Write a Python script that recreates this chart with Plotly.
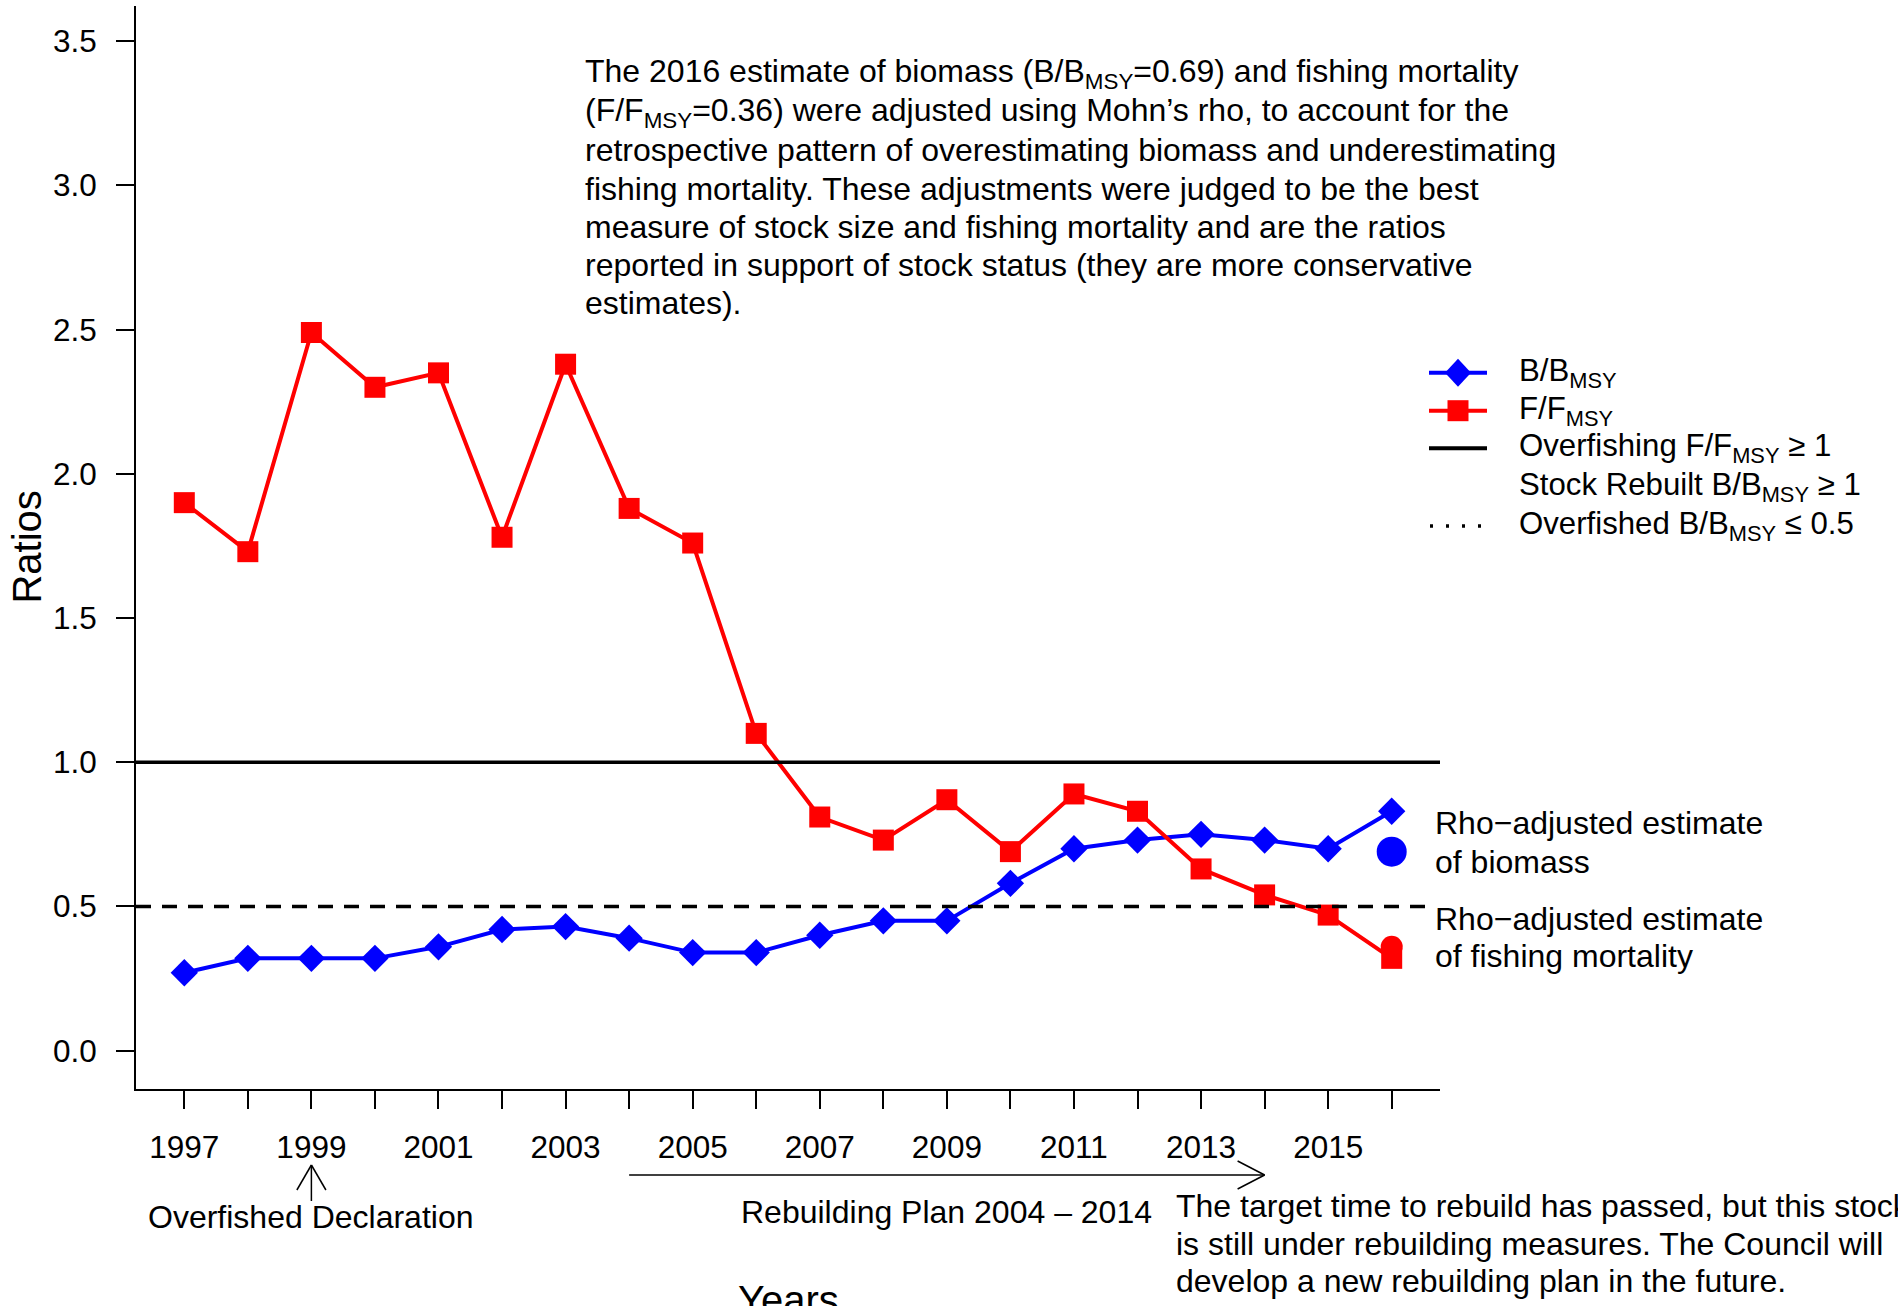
import plotly.graph_objects as go

# ---- data ----
years = list(range(1997, 2017))
b_bmsy = [0.27, 0.32, 0.32, 0.32, 0.36, 0.42, 0.43, 0.39, 0.34, 0.34,
          0.40, 0.45, 0.45, 0.58, 0.70, 0.73, 0.75, 0.73, 0.70, 0.83]
f_fmsy = [1.90, 1.73, 2.49, 2.30, 2.35, 1.78, 2.38, 1.88, 1.76, 1.10,
          0.81, 0.73, 0.87, 0.69, 0.89, 0.83, 0.63, 0.54, 0.47, 0.32]
rho_year = 2016
rho_b = 0.69
rho_f = 0.36
overfishing_ref = 1.0
overfished_ref = 0.5
declaration_year = 1999
plan_start, plan_end = 2004, 2014
y_ticks = [0.0, 0.5, 1.0, 1.5, 2.0, 2.5, 3.0, 3.5]
labelled_years = [y for y in years if y % 2 == 1]
other_years = [y for y in years if y % 2 == 0]

# ---- page geometry (pixels) ----
W, H = 1898, 1306
L, T, PW, PH = 136, 6, 1304, 1083
XR = [1996.24, 2016.76]
YR = [-0.133, 3.622]
FONT = "Liberation Sans, Arial, sans-serif"
BLUE, RED = "#0000FF", "#FF0000"


def px(x):
    return (x - L) / PW


def py(y):
    return 1 - (y - T) / PH


def dx(pixels):
    return pixels * (XR[1] - XR[0]) / PW


fig = go.Figure()
fig.add_trace(go.Scatter(x=years, y=b_bmsy, mode="lines+markers",
                         line=dict(color=BLUE, width=4),
                         marker=dict(symbol="diamond", size=21, color=BLUE)))
fig.add_trace(go.Scatter(x=years, y=f_fmsy, mode="lines+markers",
                         line=dict(color=RED, width=4),
                         marker=dict(symbol="square", size=21, color=RED)))
fig.add_trace(go.Scatter(x=[rho_year], y=[rho_b], mode="markers",
                         marker=dict(symbol="circle", size=30, color=BLUE)))
fig.add_trace(go.Scatter(x=[rho_year], y=[rho_f], mode="markers",
                         marker=dict(symbol="circle", size=22, color=RED)))

shapes = [
    dict(type="line", xref="x domain", yref="y", x0=0, x1=1,
         y0=overfishing_ref, y1=overfishing_ref, line=dict(color="black", width=3.5)),
    dict(type="line", xref="x domain", yref="y", x0=0, x1=0.993,
         y0=overfished_ref, y1=overfished_ref,
         line=dict(color="black", width=3.5, dash="15px,11px")),
]

# arrows under the axis
ay_top, ay_bot = py(1165), py(1201)
head_y = py(1190)
shapes += [
    dict(type="line", xref="x", yref="paper", x0=declaration_year, x1=declaration_year,
         y0=ay_bot, y1=ay_top, line=dict(color="black", width=1.5)),
    dict(type="line", xref="x", yref="paper", x0=declaration_year - dx(14.5), x1=declaration_year,
         y0=head_y, y1=ay_top, line=dict(color="black", width=1.5)),
    dict(type="line", xref="x", yref="paper", x0=declaration_year + dx(14.5), x1=declaration_year,
         y0=head_y, y1=ay_top, line=dict(color="black", width=1.5)),
]
arr_y = py(1175)
shapes += [
    dict(type="line", xref="x", yref="paper", x0=plan_start, x1=plan_end,
         y0=arr_y, y1=arr_y, line=dict(color="black", width=1.5)),
    dict(type="line", xref="x", yref="paper", x0=plan_end - dx(27), x1=plan_end,
         y0=py(1161), y1=arr_y, line=dict(color="black", width=1.5)),
    dict(type="line", xref="x", yref="paper", x0=plan_end - dx(27), x1=plan_end,
         y0=py(1189), y1=arr_y, line=dict(color="black", width=1.5)),
]

# hand-drawn legend glyphs
lx0, lx1, lxc = 1429, 1487, 1458
rows = [372.7, 410.7, 448.3, 486.7, 526]
shapes += [
    dict(type="line", xref="paper", yref="paper", x0=px(lx0), x1=px(lx1),
         y0=py(rows[0]), y1=py(rows[0]), line=dict(color=BLUE, width=4)),
    dict(type="path", xref="paper", yref="paper", fillcolor=BLUE, line=dict(width=0),
         path=f"M {px(lxc - 13)} {py(rows[0])} L {px(lxc)} {py(rows[0] - 14)} "
              f"L {px(lxc + 13)} {py(rows[0])} L {px(lxc)} {py(rows[0] + 14)} Z"),
    dict(type="line", xref="paper", yref="paper", x0=px(lx0), x1=px(lx1),
         y0=py(rows[1]), y1=py(rows[1]), line=dict(color=RED, width=4)),
    dict(type="rect", xref="paper", yref="paper", fillcolor=RED, line=dict(width=0),
         x0=px(lxc - 10.5), x1=px(lxc + 10.5), y0=py(rows[1] - 10.5), y1=py(rows[1] + 10.5)),
    dict(type="line", xref="paper", yref="paper", x0=px(lx0), x1=px(lx1),
         y0=py(rows[2]), y1=py(rows[2]), line=dict(color="black", width=4)),
    dict(type="line", xref="paper", yref="paper", x0=px(1430), x1=px(1484),
         y0=py(rows[4]), y1=py(rows[4]), line=dict(color="black", width=3.5, dash="3px,13px")),
]

legend_text = [
    "B/B<sub>MSY</sub>",
    "F/F<sub>MSY</sub>",
    "Overfishing F/F<sub>MSY</sub> ≥ 1",
    "Stock Rebuilt B/B<sub>MSY</sub> ≥ 1",
    "Overfished B/B<sub>MSY</sub> ≤ 0.5",
]

note_lines = [
    "The 2016 estimate of biomass (B/B<sub>MSY</sub>=0.69) and fishing mortality",
    "(F/F<sub>MSY</sub>=0.36) were adjusted using Mohn’s rho, to account for the",
    "retrospective pattern of overestimating biomass and underestimating",
    "fishing mortality. These adjustments were judged to be the best",
    "measure of stock size and fishing mortality and are the ratios",
    "reported in support of stock status (they are more conservative",
    "estimates).",
]
target_lines = [
    "The target time to rebuild has passed, but this stock",
    "is still under rebuilding measures. The Council will",
    "develop a new rebuilding plan in the future.",
]

ann = []


def text(x, y, s, size=32, xanchor="left", **kw):
    ann.append(dict(x=px(x), y=py(y), xref="paper", yref="paper", text=s,
                    showarrow=False, xanchor=xanchor, yanchor="middle",
                    font=dict(family=FONT, size=size, color="black"), **kw))


for i, s in enumerate(note_lines):
    text(583, 74 + i * 38.2, s)
for i, s in enumerate(legend_text):
    text(1517, rows[i], s, size=31.2)
text(1433, 823.1, "Rho−adjusted estimate")
text(1433, 861.9, "of biomass")
text(1433, 918.8, "Rho−adjusted estimate")
text(1433, 956.3, "of fishing mortality")
text(310.5, 1216.6, "Overfished Declaration", xanchor="center")
text(946, 1212, "Rebuilding Plan 2004 – 2014", xanchor="center")
for i, s in enumerate(target_lines):
    text(1174, 1206 + i * 37.7, s)
text(788, 1300, "Years", size=40, xanchor="center")
text(26.6, 547, "Ratios", size=40, xanchor="center", textangle=-90)

fig.update_layout(
    width=W, height=H,
    margin=dict(l=L, r=W - L - PW, t=T, b=H - T - PH),
    paper_bgcolor="white", plot_bgcolor="white",
    showlegend=False,
    shapes=shapes, annotations=ann,
    font=dict(family=FONT, size=32, color="black"),
)
tick_style = dict(ticks="outside", ticklen=18, tickwidth=1.5, tickcolor="black")
fig.update_xaxes(range=XR, tickvals=labelled_years, ticktext=[str(y) for y in labelled_years],
                 showline=True, linewidth=2, linecolor="black", showgrid=False,
                 zeroline=False, tickfont=dict(size=31.5), ticklabelstandoff=11,
                 minor=dict(tickvals=other_years, showgrid=False, **tick_style),
                 **tick_style)
fig.update_yaxes(range=YR, tickvals=y_ticks, ticktext=[f"{v:.1f}" for v in y_ticks],
                 showline=True, linewidth=2, linecolor="black", showgrid=False,
                 zeroline=False, tickfont=dict(size=31.5), ticklabelstandoff=13,
                 **tick_style)

fig.write_html("out.html", config={"displayModeBar": False},
               post_script="document.body.style.margin = '0';")
